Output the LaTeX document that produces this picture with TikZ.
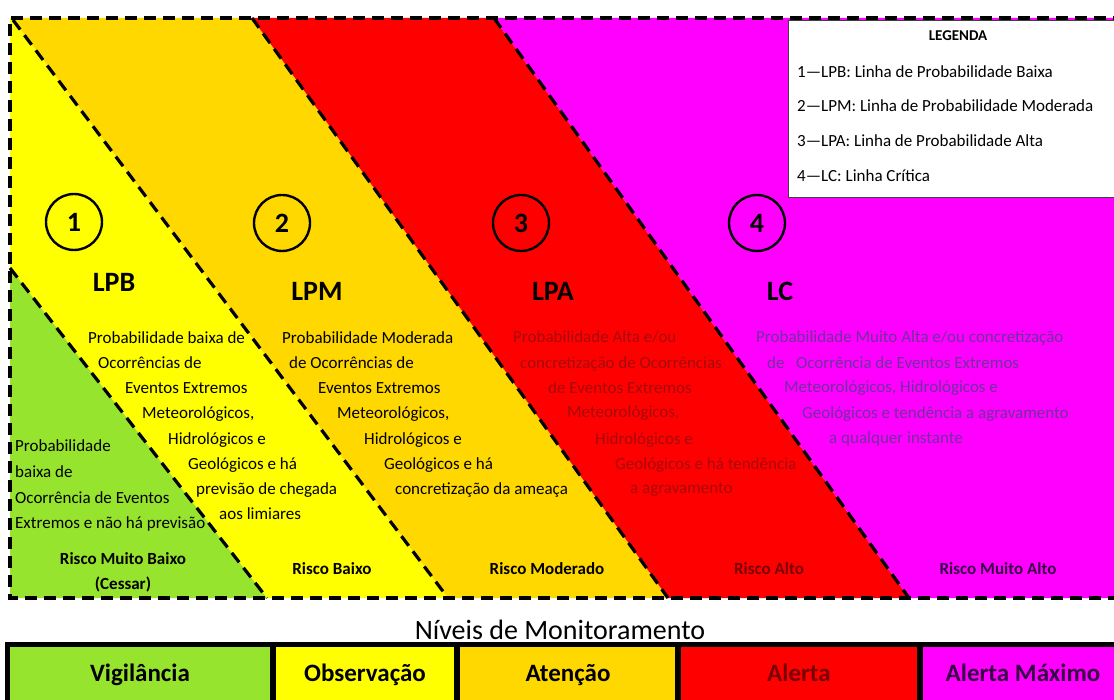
\documentclass[tikz,border=0pt]{standalone}
\usepackage{fontspec}
\setmainfont{Carlito}
\definecolor{cgreen}{RGB}{150,228,45}
\definecolor{cyellow}{RGB}{255,255,0}
\definecolor{cgold}{RGB}{255,216,0}
\definecolor{cred}{RGB}{255,0,0}
\definecolor{cmag}{RGB}{255,0,255}
\definecolor{lpatext}{RGB}{165,10,10}
\definecolor{lctext}{RGB}{112,48,160}
\definecolor{altotext}{RGB}{120,0,0}
\definecolor{maxtext}{RGB}{55,0,70}
\tikzset{
  dline/.style={line width=3.2pt, dash pattern=on 12pt off 7pt},
  body/.style={anchor=base west, inner sep=0pt, font=\fontsize{17}{20}\selectfont},
  risk/.style={anchor=base, inner sep=0pt, font=\fontsize{17}{20}\selectfont\bfseries},
  numc/.style={circle, draw=black, line width=2.4pt, minimum size=56pt, inner sep=0pt, font=\fontsize{28}{30}\selectfont\bfseries},
  lbl/.style={anchor=base, inner sep=0pt, font=\fontsize{28}{30}\selectfont\bfseries},
  leg/.style={anchor=base west, inner sep=0pt, font=\fontsize{17}{20}\selectfont},
  celltxt/.style={anchor=base, inner sep=0pt, font=\fontsize{25}{28}\selectfont\bfseries}
}
\begin{document}
\begin{tikzpicture}[x=1pt,y=-1pt]
\useasboundingbox (0,0) rectangle (1114,700);
\fill[white] (0,0) rectangle (1114,700);
\begin{scope}
\clip (0,0) rectangle (1114,700);
% regions
\fill[cyellow] (10,18) -- (12,18) -- (448,598) -- (267,598) -- (10,268) -- cycle;
\fill[cgold] (12,18) -- (252,18) -- (668,598) -- (448,598) -- cycle;
\fill[cred] (252,18) -- (494,18) -- (909,598) -- (668,598) -- cycle;
\fill[cmag] (494,18) -- (1125,18) -- (1125,598) -- (909,598) -- cycle;
\fill[cgreen] (10,268) -- (267,598) -- (10,598) -- cycle;
% boundary coordinates
\coordinate (gT) at (10,268); \coordinate (gB) at (267,598);
\coordinate (aT) at (13,20);  \coordinate (aB) at (448,598);
\coordinate (bT) at (252,18); \coordinate (bB) at (668,598);
\coordinate (cT) at (494,18); \coordinate (cB) at (909,598);
\draw[dline] (gT) -- (gB);
\draw[dline] (aT) -- (aB);
\draw[dline] (bT) -- (bB);
\draw[dline] (cT) -- (cB);
% legend
\draw[fill=white, draw=black!75, line width=0.9pt] (788,20) rectangle (1125,197);
\node[anchor=base, inner sep=0pt, font=\fontsize{15}{18}\selectfont\bfseries] (legt) at (958,41) {LEGENDA};
\node[leg] (leg1) at (797,78) {1—LPB: Linha de Probabilidade Baixa};
\node[leg] (leg2) at (797,112) {2—LPM: Linha de Probabilidade Moderada};
\node[leg] (leg3) at (797,147) {3—LPA: Linha de Probabilidade Alta};
\node[leg] (leg4) at (797,182) {4—LC: Linha Crítica};
% frame
\draw[dline] (1125,18) -- (10,18) -- (10,598) -- (1125,598);
% circles
\node[numc] (n1) at (74,222) {1};
\node[numc] (n2) at (282,223) {2};
\node[numc] (n3) at (521,223) {3};
\node[numc] (n4) at (757,223) {4};
% titles
\node[lbl] (t1) at (114,292) {LPB};
\node[lbl] (t2) at (317,301) {LPM};
\node[lbl] (t3) at (553,301) {LPA};
\node[lbl] (t4) at (780,301) {LC};
% LPB text
\node[body] (b1) at (88,344) {Probabilidade baixa de};
\node[body] (b2) at (98,369) {Ocorrências de};
\node[body] (b3) at (125,394) {Eventos Extremos};
\node[body] (b4) at (142,419) {Meteorológicos,};
\node[body] (b5) at (168,444) {Hidrológicos e};
\node[body] (b6) at (188,469) {Geológicos e há};
\node[body] (b7) at (196,494) {previsão de chegada};
\node[body] (b8) at (219,519) {aos limiares};
% green text
\node[body] (g1) at (15,452) {Probabilidade};
\node[body] (g2) at (15,477) {baixa de};
\node[body] (g3) at (15,503) {Ocorrência de Eventos};
\node[body] (g4) at (15,528) {Extremos e não há previsão};
% LPM text
\node[body] (m1) at (282,344) {Probabilidade Moderada};
\node[body] (m2) at (289,369) {de Ocorrências de};
\node[body] (m3) at (318,394) {Eventos Extremos};
\node[body] (m4) at (337,419) {Meteorológicos,};
\node[body] (m5) at (364,444) {Hidrológicos e};
\node[body] (m6) at (384,469) {Geológicos e há};
\node[body] (m7) at (395,494) {concretização da ameaça};
% LPA text
\begin{scope}[every node/.append style={text=lpatext}]
\node[body] (p1) at (513,343) {Probabilidade Alta e/ou};
\node[body] (p2) at (520,369) {concretização de Ocorrências};
\node[body] (p3) at (548,394) {de Eventos Extremos};
\node[body] (p4) at (567,418) {Meteorológicos,};
\node[body] (p5) at (595,444) {Hidrológicos e};
\node[body] (p6) at (615,469) {Geológicos e há tendência};
\node[body] (p7) at (630,493) {a agravamento};
\end{scope}
% LC text
\begin{scope}[every node/.append style={text=lctext}]
\node[body] (c1) at (756,343) {Probabilidade Muito Alta e/ou concretização};
\node[body] (c2) at (767,369) {de\ \ \ Ocorrência de Eventos Extremos};
\node[body] (c3) at (784,393) {Meteorológicos, Hidrológicos e};
\node[body] (c4) at (802,419) {Geológicos e tendência a agravamento};
\node[body] (c5) at (829,443) {a qualquer instante};
\end{scope}
% risk labels
\node[risk] (r1) at (123,564) {Risco Muito Baixo};
\node[risk] (r1b) at (123,589) {(Cessar)};
\node[risk] (r2) at (332,574) {Risco Baixo};
\node[risk] (r3) at (547,574) {Risco Moderado};
\node[risk, text=altotext] (r4) at (769,574) {Risco Alto};
\node[risk, text=maxtext] (r5) at (998,574) {Risco Muito Alto};
% bottom levels
\node[anchor=base, inner sep=0pt, font=\fontsize{28}{32}\selectfont] (niv) at (560,639) {Níveis de Monitoramento};
\fill[black] (5,642) rectangle (1125,710);
\fill[cgreen] (10,647) rectangle (270,710);
\fill[cyellow] (276,647) rectangle (454,710);
\fill[cgold] (460,647) rectangle (675,710);
\fill[cred] (681,647) rectangle (917,710);
\fill[cmag] (923,647) rectangle (1125,710);
\node[celltxt] (v1) at (140,681) {Vigilância};
\node[celltxt] (v2) at (365,681) {Observação};
\node[celltxt] (v3) at (568,681) {Atenção};
\node[celltxt, text=altotext] (v4) at (799,681) {Alerta};
\node[celltxt, text=maxtext] (v5) at (1023,681) {Alerta Máximo};
\end{scope}
\end{tikzpicture}
\end{document}
